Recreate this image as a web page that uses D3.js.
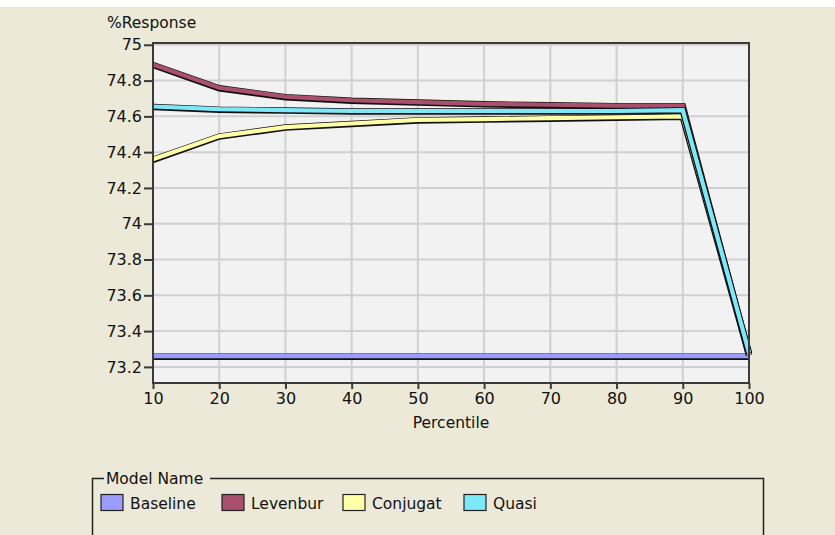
<!DOCTYPE html>
<html>
<head>
<meta charset="utf-8">
<script src="https://cdn.jsdelivr.net/npm/d3@7"></script>
<style>
  body { margin: 0; background: #fff; }
  text { font-family: "DejaVu Sans", sans-serif; fill: #111; }
</style>
</head>
<body>
<div id="chart"></div>
<script>
'use strict'

// chart data
const percentiles = [10, 20, 30, 40, 50, 60, 70, 80, 90, 100]
const modelNames = ['Baseline', 'Levenbur', 'Conjugat', 'Quasi']
const baseline = [73.26, 73.26, 73.26, 73.26, 73.26, 73.26, 73.26, 73.26, 73.26, 73.26]
const levenbur = [74.89, 74.76, 74.71, 74.69, 74.68, 74.67, 74.665, 74.66, 74.66, 73.27]
const conjugat = [74.36, 74.49, 74.54, 74.56, 74.58, 74.585, 74.59, 74.595, 74.60, 73.27]
const quasi = [74.655, 74.64, 74.635, 74.63, 74.63, 74.63, 74.63, 74.63, 74.635, 73.28]
const yTicks = [73.2, 73.4, 73.6, 73.8, 74, 74.2, 74.4, 74.6, 74.8, 75]
const xTicks = [10, 20, 30, 40, 50, 60, 70, 80, 90, 100]

const colors = ['#9c9cff', '#a8506e', '#ffffa8', '#7ce8f8']
const seriesValues = [baseline, levenbur, conjugat, quasi]

let svg = d3.select('#chart').append('svg')
    .attr('width', 835)
    .attr('height', 535)

// background (thin white strip on top like the screenshot)
svg.append('rect')
    .attr('x', 0).attr('y', 7)
    .attr('width', 835).attr('height', 528)
    .attr('fill', '#ece9d8')

let margin = { top: 43, left: 153, right: 86, bottom: 152 },
    width = 835 - margin.left - margin.right,
    height = 535 - margin.top - margin.bottom

let x = d3.scaleLinear().domain([10, 100]).range([0, width]),
    y = d3.scaleLinear().domain([73.11, 75.01]).range([height, 0])

let g = svg.append('g')
    .attr('transform', 'translate(' + margin.left + ',' + margin.top + ')')

g.append('rect')
    .attr('width', width)
    .attr('height', height)
    .attr('fill', '#f2f2f2')

// grid
g.append('g')
    .selectAll('line')
    .data(yTicks)
    .join('line')
    .attr('x1', 0).attr('x2', width)
    .attr('y1', d => y(d)).attr('y2', d => y(d))
    .attr('stroke', '#d0d0d0')
    .attr('stroke-width', 2)

g.append('g')
    .selectAll('line')
    .data(xTicks.slice(1, -1))
    .join('line')
    .attr('y1', 0).attr('y2', height)
    .attr('x1', d => x(d)).attr('x2', d => x(d))
    .attr('stroke', '#d0d0d0')
    .attr('stroke-width', 2)

// series: dark outline then coloured band on top
let line = d3.line()
    .x(d => x(d.k))
    .y(d => y(d.v))

seriesValues.forEach(function(vals, i) {
    let data = percentiles.map((k, j) => ({ k: k, v: vals[j] }))
    g.append('path')
        .datum(data)
        .attr('d', line)
        .attr('transform', 'translate(0,0.5)')
        .attr('fill', 'none')
        .attr('stroke', '#111')
        .attr('stroke-width', 6.5)
    g.append('path')
        .datum(data)
        .attr('d', line)
        .attr('fill', 'none')
        .attr('stroke', colors[i])
        .attr('stroke-width', 4.2)
})

// frame
g.append('rect')
    .attr('width', width)
    .attr('height', height)
    .attr('fill', 'none')
    .attr('stroke', '#3a3a3a')
    .attr('stroke-width', 2)

// axes
let yAxis = g.append('g')
    .call(d3.axisLeft(y).tickValues(yTicks).tickSize(9).tickPadding(2)
        .tickFormat(d => d3.format('')(+d.toFixed(1))))
yAxis.select('.domain').remove()
yAxis.selectAll('line').attr('stroke', '#3a3a3a').attr('stroke-width', 2)
yAxis.selectAll('text').style('font-size', '16px').attr('fill', '#111')

let xAxis = g.append('g')
    .attr('transform', 'translate(0,' + height + ')')
    .call(d3.axisBottom(x).tickValues(xTicks).tickSize(6).tickPadding(4))
xAxis.select('.domain').remove()
xAxis.selectAll('line').attr('stroke', '#3a3a3a').attr('stroke-width', 2)
xAxis.selectAll('text').style('font-size', '16px').attr('fill', '#111')

svg.append('text')
    .attr('x', 107).attr('y', 28)
    .style('font-size', '15.5px')
    .text('%Response')

svg.append('text')
    .attr('x', margin.left + width / 2).attr('y', 428)
    .attr('text-anchor', 'middle')
    .style('font-size', '15.5px')
    .text('Percentile')

// legend group box
let lg = svg.append('g')
lg.append('path')
    .attr('d', 'M104,478.5 H92.5 V540 M763.5,540 V478.5 H210')
    .attr('fill', 'none')
    .attr('stroke', '#222')
    .attr('stroke-width', 1.5)
lg.append('text')
    .attr('x', 106).attr('y', 484)
    .style('font-size', '15.5px')
    .text('Model Name')

let legendX = [101, 222, 343, 464]
modelNames.forEach(function(name, i) {
    lg.append('rect')
        .attr('x', legendX[i]).attr('y', 494.5)
        .attr('width', 22).attr('height', 16)
        .attr('fill', colors[i])
        .attr('stroke', '#222')
        .attr('stroke-width', 1.2)
    lg.append('text')
        .attr('x', legendX[i] + 29).attr('y', 508.5)
        .style('font-size', '15.5px')
        .text(name)
})
</script>
</body>
</html>
